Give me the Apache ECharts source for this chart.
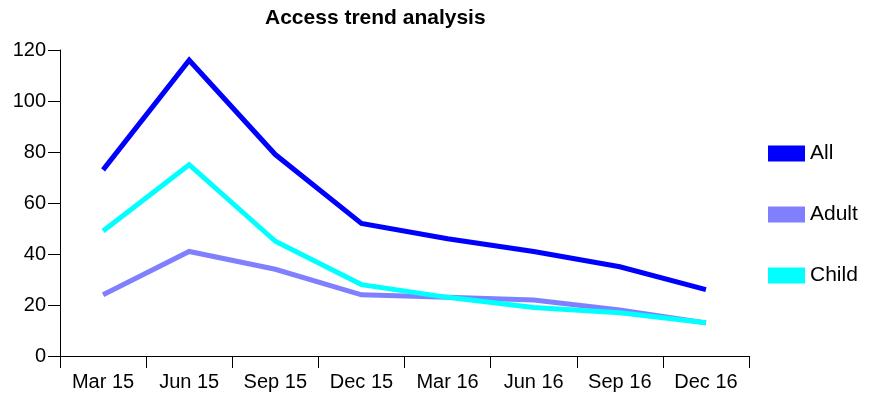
<!DOCTYPE html>
<html><head><meta charset="utf-8">
<script src="https://cdn.jsdelivr.net/npm/echarts@6/dist/echarts.min.js"></script>
<style>html,body{margin:0;padding:0;background:#fff}#c{width:874px;height:396px}</style>
</head><body><div id="c"></div>
<script>
const categories = ["Mar 15","Jun 15","Sep 15","Dec 15","Mar 16","Jun 16","Sep 16","Dec 16"];
const allValues = [73, 116, 79, 52, 46, 41, 35, 26];
const adultValues = [24, 41, 34, 24, 23, 22, 18, 13];
const childValues = [49, 75, 45, 28, 23, 19, 17, 13];
const seriesNames = ["All", "Adult", "Child"];
const seriesColors = ["#0000ff", "#8080ff", "#00ffff"];

const font = "Liberation Sans, Arial, sans-serif";
const chart = echarts.init(document.getElementById('c'), null, {renderer:'canvas'});
const mk = (name, data, color) => ({
  name, type:'line', data, symbol:'none', smooth:false,
  lineStyle:{color, width:5, cap:'butt', join:'miter'}, itemStyle:{color},
  emphasis:{disabled:true}, z: 2
});
chart.setOption({
  animation:false,
  title:{text:'Access trend analysis', left:265, top:8, padding:0,
    textStyle:{fontFamily:font, fontSize:21, fontWeight:'bold', color:'#000'}},
  grid:{left:60, right:125, top:50, bottom:40, containLabel:false},
  legend:{orient:'vertical', left:768, top:143, padding:0, itemWidth:37, itemHeight:16, itemGap:40,
    icon:'rect', data:seriesNames,
    textStyle:{fontFamily:font, fontSize:21, color:'#000', lineHeight:16}},
  xAxis:{type:'category', data:categories, boundaryGap:true,
    axisLine:{show:true, lineStyle:{color:'#000', width:1}},
    axisTick:{show:true, interval:0, length:12, lineStyle:{color:'#000', width:1}},
    axisLabel:{fontFamily:font, fontSize:20, color:'#000', margin:16, interval:0},
    splitLine:{show:false}},
  yAxis:{type:'value', min:0, max:120, interval:20,
    axisLine:{show:true, lineStyle:{color:'#000', width:1}},
    axisTick:{show:true, length:12, lineStyle:{color:'#000'}},
    axisLabel:{fontFamily:font, fontSize:20, color:'#000', margin:14},
    splitLine:{show:false}},
  series:[
    mk(seriesNames[0], allValues, seriesColors[0]),
    mk(seriesNames[1], adultValues, seriesColors[1]),
    mk(seriesNames[2], childValues, seriesColors[2])
  ]
});
</script></body></html>
